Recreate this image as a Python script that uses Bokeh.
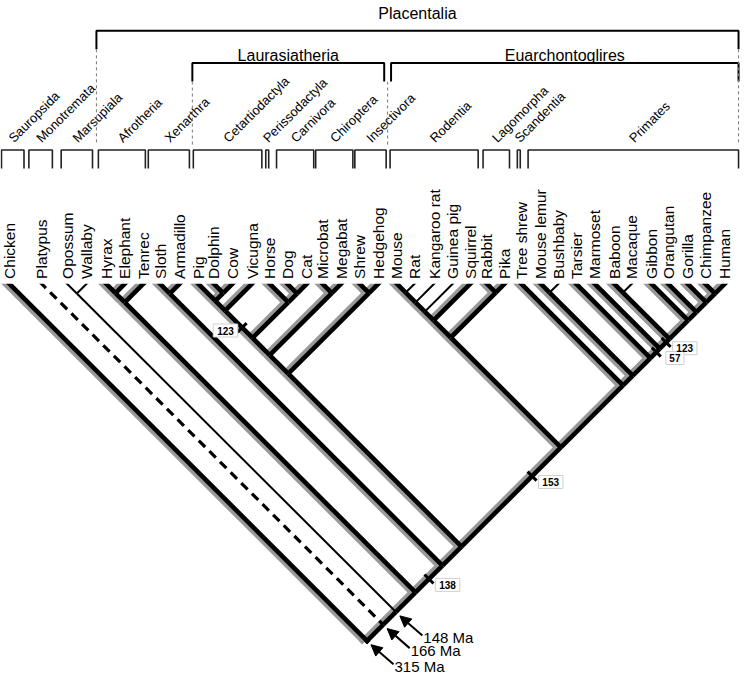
import numpy as np
from bokeh.plotting import figure
from bokeh.models import Range1d, Arrow, NormalHead
from bokeh.core.properties import value
from bokeh.embed import file_html
from bokeh.resources import INLINE

# ---------------- data ----------------
tips = ["Chicken", "Platypus", "Opossum", "Wallaby", "Hyrax", "Elephant", "Tenrec",
        "Sloth", "Armadillo", "Pig", "Dolphin", "Cow", "Vicugna", "Horse", "Dog", "Cat",
        "Microbat", "Megabat", "Shrew", "Hedgehog", "Mouse", "Rat", "Kangaroo rat",
        "Guinea pig", "Squirrel", "Rabbit", "Pika", "Tree shrew", "Mouse lemur",
        "Bushbaby", "Tarsier", "Marmoset", "Baboon", "Macaque", "Gibbon", "Orangutan",
        "Gorilla", "Chimpanzee", "Human"]
# horizontal slot of every tip (layout, px of the original figure)
tip_pos = [9, 42, 68, 88, 108, 127, 146, 163, 183, 202, 218, 237, 257, 275, 293, 313,
           329, 348, 367, 386, 405, 423, 443, 462, 480, 497, 515, 532, 552, 570, 588,
           607, 627, 645, 665, 682, 702, 720, 740]

cetartiodactyla = (("Pig", ("Dolphin", "Cow")), "Vicugna")
laurasiatheria = (((cetartiodactyla, ("Horse", ("Dog", "Cat"))), ("Microbat", "Megabat")),
                  ("Shrew", "Hedgehog"))
glires = (((( ("Mouse", "Rat"), "Kangaroo rat"), "Guinea pig"), "Squirrel"), ("Rabbit", "Pika"))
primates = (("Mouse lemur", "Bushbaby"),
            ("Tarsier", ("Marmoset", (("Baboon", "Macaque"),
                                      ("Gibbon", ("Orangutan", ("Gorilla", ("Chimpanzee", "Human"))))))))
euarchontoglires = (glires, ("Tree shrew", primates))
tree = ("Chicken", ("Platypus", (("Opossum", "Wallaby"),
        ((("Hyrax", "Elephant"), "Tenrec"), (("Sloth", "Armadillo"), (laurasiatheria, euarchontoglires))))))

thin_tips = ["Opossum", "Wallaby", "Rat", "Kangaroo rat", "Guinea pig", "Bushbaby", "Macaque"]
dashed_tips = ["Platypus"]

support_values = ["123", "138", "153", "123", "57"]
support_first = ["Pig", "Sloth", "Mouse", "Baboon", "Marmoset"]
support_last = ["Vicugna", "Human", "Human", "Human", "Human"]
support_frac = [0.62, 0.5, 0.29, 0.35, 0.37]

age_labels = ["148 Ma", "166 Ma", "315 Ma"]
age_first = ["Opossum", "Platypus", "Chicken"]

orders = ["Sauropsida", "Monotremata", "Marsupiala", "Afrotheria", "Xenarthra",
          "Cetartiodactyla", "Perissodactyla", "Carnivora", "Chiroptera", "Insectivora",
          "Rodentia", "Lagomorpha", "Scandentia", "Primates"]
order_left = [1, 29, 62, 100, 151, 197, 271, 282, 322, 362, 398, 493, 528, 539]
order_right = [24, 53, 94, 148, 193, 267, 274, 320, 360, 394, 488, 520, 531, 754]

groups = ["Placentalia", "Laurasiatheria", "Euarchontoglires"]
group_first = ["Hyrax", "Pig", "Mouse"]
group_last = ["Human", "Hedgehog", "Human"]
group_level = [31, 64, 64]
group_gap = [0, 3.5, 3.5]

# ---------------- layout ----------------
Y0 = 290.0
X = dict(zip(tips, tip_pos))
nodes = {}
branches = []


def build(t):
    if isinstance(t, str):
        n = {"x": X[t], "y": Y0, "tips": [t], "leaf": True}
    else:
        kids = [build(k) for k in t]
        tl = [s for k in kids for s in k["tips"]]
        xl, xr = X[tl[0]], X[tl[-1]]
        n = {"x": (xl + xr) / 2, "y": Y0 + (xr - xl) / 2, "tips": tl, "leaf": False}
        for k in kids:
            k["parent"] = n
            branches.append((k, n))
    nodes[(n["tips"][0], n["tips"][-1])] = n
    return n


root = build(tree)

LW = 4.6
EXT = 3.0
SH = -5.0
thick = dict(x0=[], y0=[], x1=[], y1=[])
thin = dict(x0=[], y0=[], x1=[], y1=[])
dash = dict(x0=[], y0=[], x1=[], y1=[])
for k, n in branches:
    x0, y0, x1, y1 = k["x"], k["y"], n["x"], n["y"]
    d = np.array([x0 - x1, y0 - y1])
    d = d / np.hypot(*d)
    if k["leaf"]:
        x0, y0 = x0 + d[0] * EXT, y0 + d[1] * EXT
    if n is root:
        x1, y1 = x1 - d[0] * 2.5, y1 - d[1] * 2.5
    if k["tips"][0] in dashed_tips and len(k["tips"]) == 1:
        tgt = dash
    elif all(t in thin_tips for t in k["tips"]):
        tgt = thin
    else:
        tgt = thick
    for key, v in zip(["x0", "y0", "x1", "y1"], [x0, y0, x1, y1]):
        tgt[key].append(v)

p = figure(width=740, height=674, x_range=Range1d(0, 756), y_range=Range1d(690, 0),
           output_backend="svg", toolbar_location=None, min_border=0,
           x_axis_location=None, y_axis_location=None)
p.grid.visible = False
p.outline_line_color = None
p.background_fill_color = "white"

# shadows
p.segment([v + SH for v in thick["x0"]], thick["y0"], [v + SH for v in thick["x1"]], thick["y1"],
          line_color="#999999", line_width=LW, line_cap="butt")
p.segment("x0", "y0", "x1", "y1", source=thick, line_color="black", line_width=LW, line_cap="butt")
p.segment("x0", "y0", "x1", "y1", source=thin, line_color="black", line_width=2, line_cap="butt")
p.segment("x0", "y0", "x1", "y1", source=dash, line_color="black", line_width=3.2,
          line_cap="butt", line_dash="9 6")

# flat cut of the tip ends
p.quad(left=[0], right=[756], top=[Y0 - 8], bottom=[Y0], fill_color="white", line_color=None)

# tip labels
p.text(x=tip_pos, y=[Y0 - 5] * len(tips), text=tips, angle=np.pi / 2, text_align="left",
       text_baseline="middle", text_font=value("Liberation Sans"), text_font_size="15.5px",
       text_color="black")

# support ticks
tk = dict(x0=[], y0=[], x1=[], y1=[])
lab = dict(x=[], y=[], t=[], w=[])
for v, a, b, f in zip(support_values, support_first, support_last, support_frac):
    n = nodes[(a, b)]
    par = n["parent"]
    px = n["x"] + (par["x"] - n["x"]) * f
    py = n["y"] + (par["y"] - n["y"]) * f
    right_child = par["x"] < n["x"]
    if right_child:   # branch "/" -> tick "\"
        ux, uy = 1 / np.sqrt(2), 1 / np.sqrt(2)
        lx, ly = px + 19, py + 6
    else:             # branch "\" -> tick "/"
        ux, uy = 1 / np.sqrt(2), -1 / np.sqrt(2)
        lx, ly = px - 17, py + 3
    tk["x0"].append(px - ux * 6.5); tk["y0"].append(py - uy * 6.5)
    tk["x1"].append(px + ux * 6.5); tk["y1"].append(py + uy * 6.5)
    lab["x"].append(lx); lab["y"].append(ly); lab["t"].append(v); lab["w"].append(6.5 * len(v) + 5)
p.segment("x0", "y0", "x1", "y1", source=tk, line_color="black", line_width=3)
p.rect(x="x", y="y", width="w", height=13, width_units="screen", height_units="screen",
       source=lab, fill_color="white", line_color="#d0d0d0", line_width=1)
p.text(x="x", y="y", text="t", source=lab, text_align="center", text_baseline="middle",
       text_font=value("Liberation Sans"), text_font_size="10px", text_font_style="bold",
       text_color="black")

# age arrows
for lbl, a in zip(age_labels, age_first):
    n = nodes[(a, "Human")]
    tx, ty = n["x"] + 4, n["y"] + 4
    sx, sy = n["x"] + 27, n["y"] + 24
    p.add_layout(Arrow(end=NormalHead(size=11, fill_color="black", line_color="black"),
                       x_start=sx, y_start=sy, x_end=tx, y_end=ty,
                       line_width=2, line_color="black"))
    p.text(x=[sx + 1], y=[sy + 2], text=[lbl], text_align="left", text_baseline="middle",
           text_font=value("Liberation Sans"), text_font_size="15px", text_color="black")

# order brackets
ob_xs = [[l, l, r, r] for l, r in zip(order_left, order_right)]
ob_ys = [[172, 153, 153, 172] for _ in orders]
p.multi_line(ob_xs, ob_ys, line_color="#222222", line_width=1.6)
oc = [(l + r) / 2 - 2 for l, r in zip(order_left, order_right)]
p.text(x=oc, y=[143] * len(orders), text=orders, angle=np.pi / 4, text_align="left",
       text_baseline="alphabetic", text_font=value("Liberation Sans"), text_font_size="13px",
       text_color="black")

# group brackets
gl, gr = [], []
for f, l, g in zip(group_first, group_last, group_gap):
    i, j = tips.index(f), tips.index(l)
    gl.append((tip_pos[i - 1] + tip_pos[i]) / 2 + g)
    gr.append((tip_pos[j] + tip_pos[j + 1]) / 2 - g if j + 1 < len(tips) else tip_pos[j] + 14)
p.multi_line([[l, l, r, r] for l, r in zip(gl, gr)],
             [[y + 19, y, y, y + 19] for y in group_level], line_color="black", line_width=2)
p.text(x=[(l + r) / 2 for l, r in zip(gl, gr)], y=[y - 18 if y < 40 else y - 8 for y in group_level],
       text=groups, text_align="center", text_baseline="alphabetic",
       text_font=value("Liberation Sans"), text_font_size="16px", text_color="black")
# dashed separators
sep_x = [gl[0], gl[1], (gr[1] + gl[2]) / 2, gr[0]]
sep_top = [group_level[0] + 19, group_level[1] + 19, group_level[1] + 19, group_level[0] + 19]
p.multi_line([[x, x] for x in sep_x], [[t, 148] for t in sep_top], line_color="#777777",
             line_width=1, line_dash="3 3")

open("out.html", "w").write(file_html(p, INLINE))
